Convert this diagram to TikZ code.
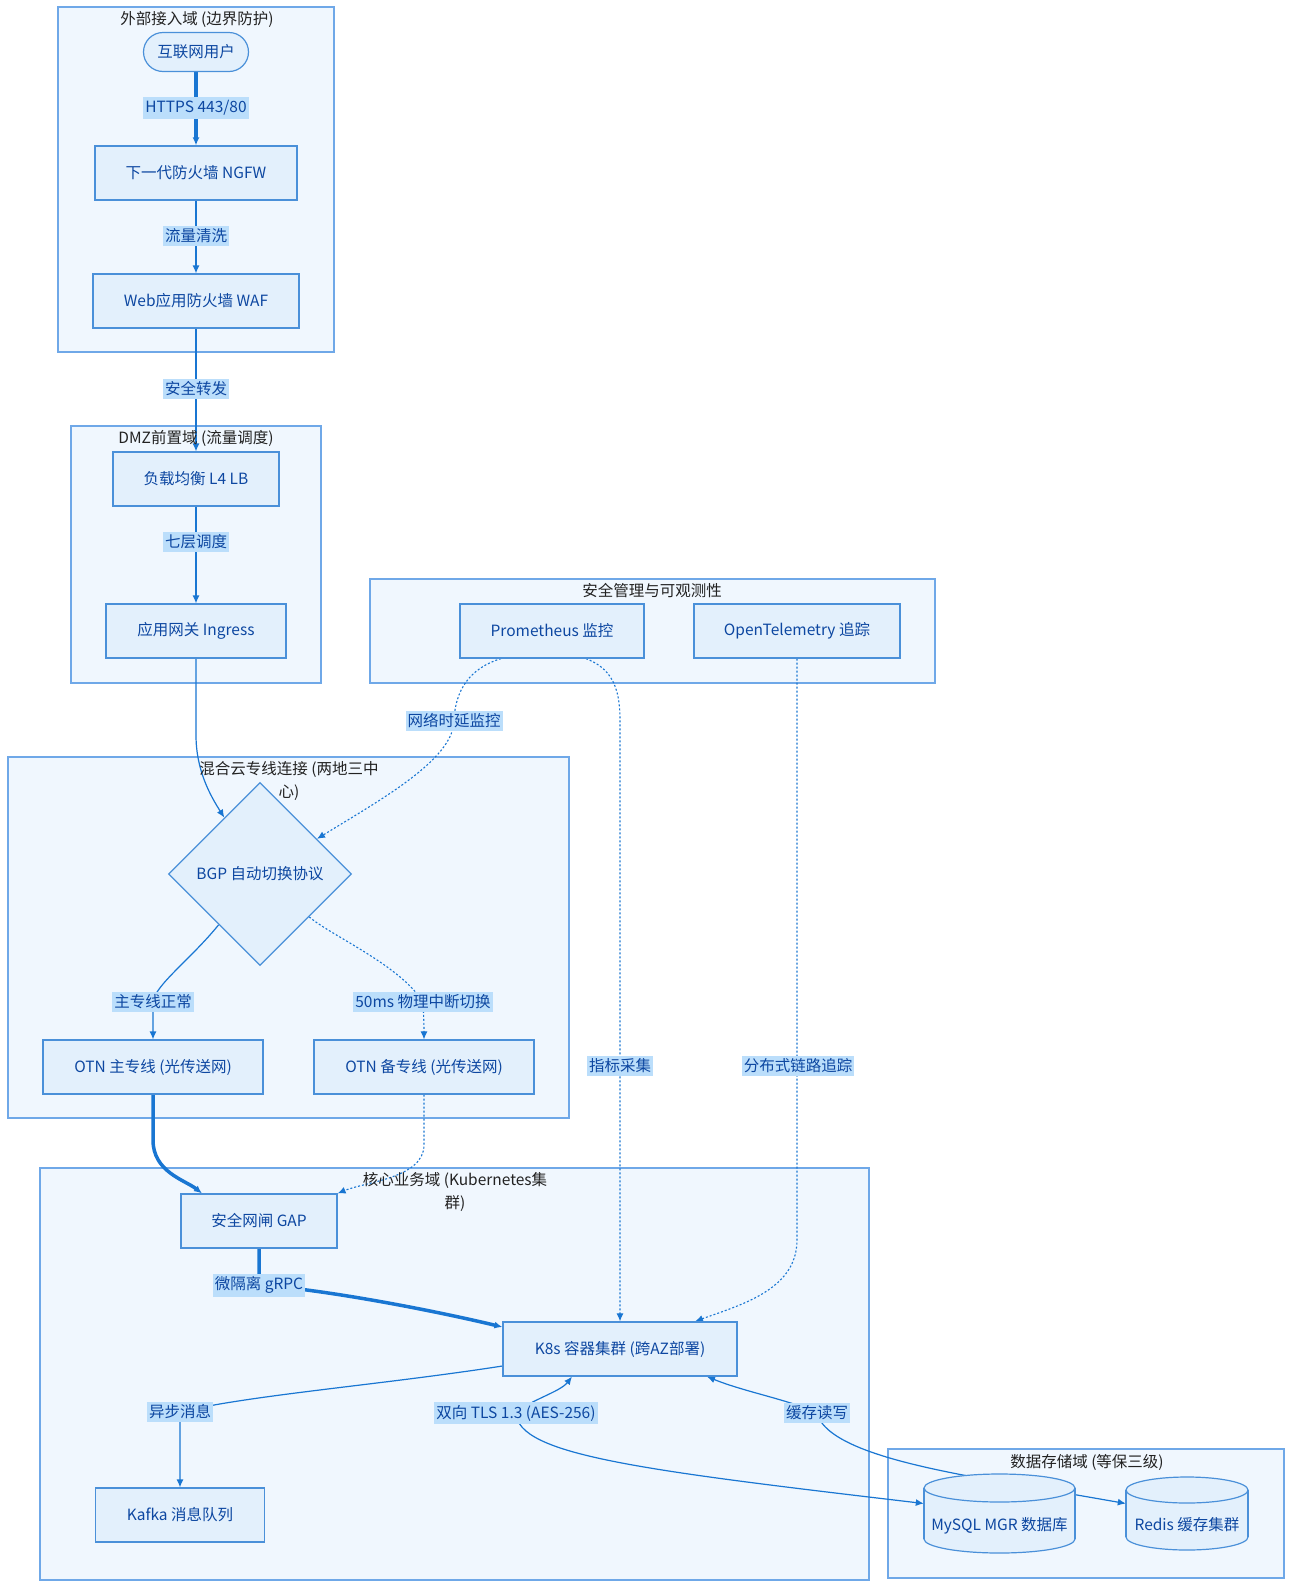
\documentclass[tikz,border=0pt]{standalone}
\usepackage{fontspec}
\setmainfont{Noto Sans CJK SC}
\usetikzlibrary{positioning, shapes.geometric, arrows.meta, calc}

\definecolor{zonefill}{HTML}{F0F7FE}
\definecolor{zoneline}{HTML}{6FA8E8}
\definecolor{boxfill}{HTML}{E3F0FC}
\definecolor{boxline}{HTML}{4A90D9}
\definecolor{boxtext}{HTML}{0D47A1}
\definecolor{wirecol}{HTML}{1976D2}
\definecolor{tagfill}{HTML}{BBDEFB}
\definecolor{zonetext}{HTML}{222222}

\pgfdeclarelayer{zonelayer}
\pgfdeclarelayer{wirelayer}
\pgfsetlayers{zonelayer,wirelayer,main}

\tikzset{
    zonebox/.style={draw=zoneline, fill=zonefill, line width=1.2pt},
    zonetitle/.style={text=zonetext, align=center, font=\fontsize{15.5}{23}\selectfont},
    nodebox/.style={draw=boxline, fill=boxfill, line width=1.2pt, text=boxtext, minimum height=54, inner sep=0pt},
    drumline/.style={draw=boxline, line width=1.2pt},
    drumfill/.style={draw=boxline, fill=boxfill, line width=1.2pt},
    dbslot/.style={inner sep=0pt},
    dbtext/.style={text=boxtext},
    flowtag/.style={fill=tagfill, text=boxtext, inner xsep=2pt, inner ysep=3pt},
    wire/.style={draw=wirecol, line width=1.2pt},
    wirebold/.style={draw=wirecol, line width=3.5pt},
    wiredot/.style={draw=wirecol, line width=1.1pt, dash pattern=on 2pt off 2pt}
}

\begin{document}
\begin{tikzpicture}[x=1pt, y=-1pt, >={Latex[length=8pt,width=7pt]}, font=\fontsize{15.5}{21}\selectfont]
    \useasboundingbox (0,0) rectangle (1292,1588);
    % zones
    \begin{pgfonlayer}{zonelayer}
        \fill[white] (0,0) rectangle (1292,1588);
        \draw[zonebox] (58,7) rectangle (334,352);
        \draw[zonebox] (71,426) rectangle (321,683);
        \draw[zonebox] (370,579) rectangle (935,683);
        \draw[zonebox] (8,757) rectangle (569,1118);
        \draw[zonebox] (40,1168) rectangle (869,1580);
        \draw[zonebox] (888,1449) rectangle (1284,1578);
    \end{pgfonlayer}
    \node[zonetitle] (t-edge) at (197,19) {外部接入域 (边界防护)};
    \node[zonetitle] (t-dmz) at (196,438) {DMZ前置域 (流量调度)};
    \node[zonetitle] (t-ops) at (652,591) {安全管理与可观测性};
    \node[zonetitle] (t-link) at (289,781) {混合云专线连接 (两地三中\\心)};
    \node[zonetitle] (t-core) at (455,1192) {核心业务域 (Kubernetes集\\群)};
    \node[zonetitle] (t-data) at (1087,1462) {数据存储域 (等保三级)};

    % nodes
    \node[nodebox, rounded corners=19.5pt, minimum width=105, minimum height=39] (user) at (196,52) {互联网用户};
    \node[nodebox, minimum width=202] (ngfw) at (196,173) {下一代防火墙 NGFW};
    \node[nodebox, minimum width=206] (waf) at (196,301) {Web应用防火墙 WAF};
    \node[nodebox, minimum width=166] (lb) at (196,479) {负载均衡 L4 LB};
    \node[nodebox, minimum width=180] (ingress) at (196,631) {应用网关 Ingress};
    \node[nodebox, minimum width=184] (prom) at (552,631) {Prometheus 监控};
    \node[nodebox, minimum width=206] (otel) at (797,631) {OpenTelemetry 追踪};
    \node[nodebox, diamond, aspect=1, minimum width=183, minimum height=183] (bgp) at (260,874) {BGP 自动切换协议};
    \node[nodebox, minimum width=220] (otn-main) at (153,1067) {OTN 主专线 (光传送网)};
    \node[nodebox, minimum width=220] (otn-backup) at (424,1067) {OTN 备专线 (光传送网)};
    \node[nodebox, minimum width=156] (gap) at (259,1221) {安全网闸 GAP};
    \node[nodebox, minimum width=234] (k8s) at (620,1349) {K8s 容器集群 (跨AZ部署)};
    \node[nodebox, minimum width=169] (kafka) at (180,1515) {Kafka 消息队列};

    % databases
    \filldraw[drumfill] (999.5,1539) ellipse (75.5 and 14);
    \fill[boxfill] (924,1488) rectangle (1075,1539);
    \draw[drumline] (924,1488) -- (924,1539) (1075,1488) -- (1075,1539);
    \filldraw[drumfill] (999.5,1488) ellipse (75.5 and 14);
    \node[dbslot, minimum width=151, minimum height=79, label={[dbtext, yshift=-12pt]center:MySQL MGR 数据库}] (mysql) at (999.5,1513.5) {};
    \filldraw[drumfill] (1187,1537) ellipse (61 and 13);
    \fill[boxfill] (1126,1490) rectangle (1248,1537);
    \draw[drumline] (1126,1490) -- (1126,1537) (1248,1490) -- (1248,1537);
    \filldraw[drumfill] (1187,1490) ellipse (61 and 13);
    \node[dbslot, minimum width=122, minimum height=73, label={[dbtext, yshift=-11pt]center:Redis 缓存集群}] (redis) at (1187,1513.5) {};

    % edge labels
    \node[flowtag] (l-https) at (196,108) {HTTPS 443/80};
    \node[flowtag] (l-clean) at (196,236) {流量清洗};
    \node[flowtag] (l-fwd) at (196,389) {安全转发};
    \node[flowtag] (l-l7) at (196,542) {七层调度};
    \node[flowtag] (l-latency) at (454,721) {网络时延监控};
    \node[flowtag] (l-main) at (153,1002) {主专线正常};
    \node[flowtag] (l-switch) at (423,1002) {50ms 物理中断切换};
    \node[flowtag] (l-metric) at (620,1066) {指标采集};
    \node[flowtag] (l-trace) at (798,1066) {分布式链路追踪};
    \node[flowtag] (l-grpc) at (259,1285) {微隔离 gRPC};
    \node[flowtag] (l-async) at (180,1412) {异步消息};
    \node[flowtag] (l-tls) at (516,1413) {双向 TLS 1.3 (AES-256)};
    \node[flowtag] (l-cache) at (817,1413) {缓存读写};

    % edges
    \begin{pgfonlayer}{wirelayer}
        \draw[wirebold, ->] (user) -- (ngfw);
        \draw[wire, ->] (ngfw) -- (waf);
        \draw[wire, ->] (waf) -- (lb);
        \draw[wire, ->] (lb) -- (ingress);
        \draw[wire, ->] (ingress) -- (196,735) .. controls (196,770) and (210,795) .. (bgp);
        \draw[wire, ->] (bgp) .. controls (190,960) and (155,985) .. (l-main.center) .. controls (153,1020) and (153,1030) .. (otn-main);
        \draw[wiredot, ->] (bgp) .. controls (330,935) and (400,965) .. (l-switch.center) .. controls (424,1020) and (424,1030) .. (otn-backup);
        \draw[wirebold, ->] (otn-main) -- (153,1140) .. controls (153,1172) and (185,1180) .. ([xshift=-57pt]gap.north);
        \draw[wiredot, ->] (otn-backup) -- (424,1145) .. controls (424,1178) and (365,1182) .. (gap.north east);
        \draw[wirebold, ->] (gap) .. controls (259,1265) and (259,1278) .. (l-grpc.center) .. controls (330,1290) and (440,1312) .. ([yshift=22pt]k8s.west);
        \draw[wire, ->] ([yshift=-17pt]k8s.west) .. controls (380,1385) and (250,1395) .. (l-async.center) .. controls (180,1430) and (180,1455) .. (kafka);
        \draw[wire, <->] ([xshift=-48pt]k8s.south) .. controls (560,1392) and (530,1400) .. (l-tls.center) .. controls (518,1455) and (640,1470) .. ([yshift=10pt]mysql.west);
        \draw[wire, <->] ([xshift=87pt]k8s.south) .. controls (745,1392) and (790,1400) .. (l-cache.center) .. controls (825,1445) and (900,1463) .. (968,1476) -- ([yshift=10pt]redis.west);
        \draw[wiredot, ->] ([xshift=-51pt]prom.south) .. controls (470,668) and (455,690) .. (l-latency.center) .. controls (453,760) and (380,800) .. (bgp);
        \draw[wiredot, ->] ([xshift=34pt]prom.south) .. controls (610,668) and (620,685) .. (620,720) -- (k8s.north);
        \draw[wiredot, ->] (otel) -- (797,1240) .. controls (797,1290) and (740,1305) .. ([xshift=75pt]k8s.north);
    \end{pgfonlayer}
\end{tikzpicture}
\end{document}
